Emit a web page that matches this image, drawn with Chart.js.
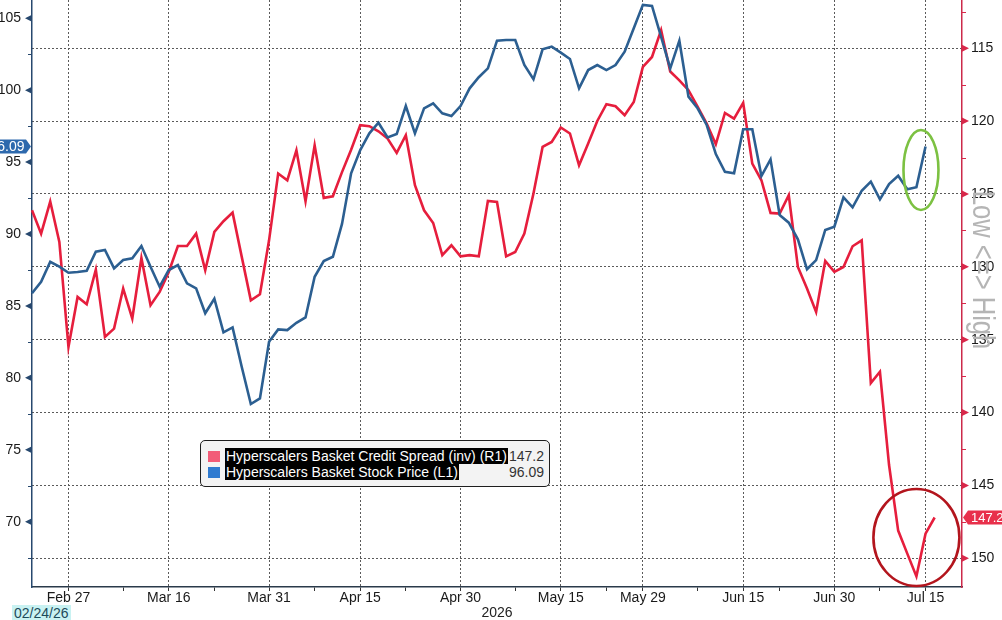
<!DOCTYPE html>
<html>
<head>
<meta charset="utf-8">
<title>Hyperscalers Basket</title>
<script src="https://cdn.jsdelivr.net/npm/chart.js@4.4.1/dist/chart.umd.min.js"></script>
<style>
  html, body { margin: 0; padding: 0; background: #fff; }
  #wrap { position: relative; width: 1002px; height: 620px; overflow: hidden; background: #fff; }
  #chart { display: block; }
  #legend {
    position: absolute; left: 200px; top: 440px; width: 350px; height: 47px;
    box-sizing: border-box; border: 1.5px solid #1e1e1e; border-radius: 5px;
    background: #f3f3f3; font: 14px/16px "Liberation Sans", Arial, sans-serif;
  }
  #legend .row { position: absolute; left: 0; right: 0; height: 16px; }
  #legend .sw { position: absolute; left: 7px; top: 3px; width: 12px; height: 11px; }
  #legend .lab { position: absolute; left: 24px; top: 0; background: #000; color: #fff; padding: 0 1px; white-space: nowrap; }
  #legend .val { position: absolute; right: 5px; top: 0; color: #333; }
  #startDate {
    position: absolute; left: 12px; top: 605px; height: 15px; padding: 0 2px;
    background: #c9f2f2; color: #1d4a5a; font: 14px/16px "Liberation Sans", Arial, sans-serif;
  }
</style>
</head>
<body>
<div id="wrap">
  <canvas id="chart" width="1002" height="620"></canvas>
  <div id="legend"></div>
  <div id="startDate">02/24/26</div>
</div>
<script>
// trading days shown on the axis (last three are empty room at the right edge)
const dates = [
  "Feb 23", "Feb 24", "Feb 25", "Feb 26", "Feb 27",
  "Mar 2", "Mar 3", "Mar 4", "Mar 5", "Mar 6",
  "Mar 9", "Mar 10", "Mar 11", "Mar 12", "Mar 13",
  "Mar 16", "Mar 17", "Mar 18", "Mar 19", "Mar 20",
  "Mar 23", "Mar 24", "Mar 25", "Mar 26", "Mar 27",
  "Mar 30", "Mar 31", "Apr 1", "Apr 2",
  "Apr 6", "Apr 7", "Apr 8", "Apr 9", "Apr 10",
  "Apr 13", "Apr 14", "Apr 15", "Apr 16", "Apr 17",
  "Apr 20", "Apr 21", "Apr 22", "Apr 23", "Apr 24",
  "Apr 27", "Apr 28", "Apr 29", "Apr 30", "May 1",
  "May 4", "May 5", "May 6", "May 7", "May 8",
  "May 11", "May 12", "May 13", "May 14", "May 15",
  "May 18", "May 19", "May 20", "May 21", "May 22",
  "May 26", "May 27", "May 28", "May 29",
  "Jun 1", "Jun 2", "Jun 3", "Jun 4", "Jun 5",
  "Jun 8", "Jun 9", "Jun 10", "Jun 11", "Jun 12",
  "Jun 15", "Jun 16", "Jun 17", "Jun 18",
  "Jun 22", "Jun 23", "Jun 24", "Jun 25", "Jun 26",
  "Jun 29", "Jun 30", "Jul 1", "Jul 2",
  "Jul 6", "Jul 7", "Jul 8", "Jul 9", "Jul 10",
  "Jul 13", "Jul 14", "Jul 15", "Jul 16", "Jul 17",
  "Jul 20", "Jul 21"
];

const majorTicks = ["Feb 27", "Mar 16", "Mar 31", "Apr 15", "Apr 30", "May 15", "May 29", "Jun 15", "Jun 30", "Jul 15"];
const minorTicks = ["Mar 9", "Mar 23", "Apr 8", "Apr 22", "May 8", "May 22", "Jun 8", "Jun 22", "Jul 8"];
const leftTicks = [70, 75, 80, 85, 90, 95, 100, 105];
const rightTicks = [115, 120, 125, 130, 135, 140, 145, 150];

const seriesNames = [
  "Hyperscalers Basket Credit Spread (inv) (R1)",
  "Hyperscalers Basket Stock Price (L1)"
];

// Stock price, left axis
const stockPrice = [
  85.88, 86.68, 88.07, 87.73, 87.31, 87.36, 87.45, 88.77, 88.89, 87.61,
  88.19, 88.31, 89.17, 87.73, 86.34, 87.50, 87.84, 86.57, 86.22, 84.49,
  85.50, 83.16, 83.51, 80.77, 78.18, 78.57, 82.51, 83.37, 83.32, 83.83,
  84.20, 87.03, 88.12, 88.42, 90.70, 94.22, 95.84, 97.00, 97.74, 96.72,
  96.95, 98.90, 97.00, 98.74, 99.09, 98.39, 98.20, 98.90, 100.13, 100.90,
  101.52, 103.44, 103.49, 103.49, 101.75, 100.76, 102.84, 103.03, 102.61, 102.17,
  100.13, 101.40, 101.75, 101.40, 101.75, 102.68, 104.30, 105.93, 105.86, 103.70,
  101.52, 103.44, 99.55, 98.74, 97.58, 95.56, 94.33, 94.22, 97.28, 97.28,
  94.03, 95.19, 91.32, 90.79, 89.63, 87.55, 88.19, 90.28, 90.51, 92.55,
  91.86, 93.01, 93.64, 92.41, 93.48, 94.05, 93.11, 93.25, 96.09
];

// Credit spread, right axis (inverted)
const creditSpread = [
  126.12, 127.72, 125.52, 128.29, 135.50, 132.07, 132.57, 130.19, 134.81, 134.24,
  131.49, 133.55, 129.39, 132.64, 131.72, 130.35, 128.57, 128.57, 127.72, 130.24,
  127.60, 126.87, 126.28, 129.30, 132.30, 131.88, 128.18, 123.60, 124.06, 122.00,
  125.50, 121.66, 125.27, 125.16, 123.50, 121.97, 120.28, 120.35, 120.70, 121.20,
  122.18, 120.97, 124.40, 126.12, 126.99, 129.20, 128.52, 129.28, 129.20, 129.28,
  125.48, 125.55, 129.28, 128.98, 127.72, 124.97, 121.77, 121.43, 120.44, 120.85,
  123.03, 121.54, 119.99, 118.84, 118.98, 119.60, 118.69, 116.28, 115.60, 113.76,
  116.60, 117.20, 117.88, 119.00, 120.17, 121.59, 119.44, 119.83, 118.75, 122.92,
  124.06, 126.30, 126.35, 125.09, 130.01, 131.49, 133.10, 129.60, 130.35, 130.01,
  128.59, 128.18, 137.97, 137.20, 143.60, 148.10, 149.68, 151.24, 148.31, 147.20
];

const redLine = "#e61e3d";
const blueLine = "#2c5f91";
const tickFont = { family: '"Liberation Sans Narrow", "Liberation Sans", Arial, sans-serif', size: 14, lineHeight: 1 };

// hand drawn circles, centred in data units
const circles = [
  { axis: "y", x: 97.5, y: 94.45, rx: 17.5, ry: 40, color: "#7cc142" },
  { axis: "y1", x: 97.0, y: 148.57, rx: 43, ry: 48.5, color: "#b3151d" }
];

const majorIdx = majorTicks.map(d => dates.indexOf(d));
const minorIdx = minorTicks.map(d => dates.indexOf(d));
const lastStock = stockPrice[stockPrice.length - 1].toFixed(2);
const lastSpread = creditSpread[creditSpread.length - 1].toFixed(1);

// legend box
const legend = document.getElementById("legend");
[[seriesNames[0], "#f25c78", lastSpread, 7], [seriesNames[1], "#2f7bd0", lastStock, 23]].forEach(([name, col, val, top]) => {
  legend.insertAdjacentHTML("beforeend",
    `<div class="row" style="top:${top}px"><span class="sw" style="background:${col}"></span>` +
    `<span class="lab">${name}</span><span class="val">${val}</span></div>`);
});

function marker(ctx, x, y, dir, color) {
  ctx.fillStyle = color;
  ctx.beginPath();
  ctx.moveTo(x, y - 3.5);
  ctx.lineTo(x + dir * 7, y);
  ctx.lineTo(x, y + 3.5);
  ctx.closePath();
  ctx.fill();
}

// no label overhang padding, the plot fills the frame
function noPad(s) {
  s.paddingTop = 0;
  s.paddingBottom = 0;
  s.paddingLeft = 0;
  s.paddingRight = 0;
}

const decor = {
  id: "decor",
  afterDraw(chart) {
    const { ctx, chartArea: area, scales } = chart;
    const yl = scales.y, yr = scales.y1, x = scales.x;
    ctx.save();

    // axis markers
    leftTicks.forEach(v => marker(ctx, area.left, yl.getPixelForValue(v), -1, "#27486e"));
    rightTicks.forEach(v => marker(ctx, area.right, yr.getPixelForValue(v), 1, "#d8284a"));
    ctx.lineWidth = 1;
    ctx.strokeStyle = "#27486e";
    leftTicks.map(v => v - 2.5).forEach(v => {
      const py = Math.round(yl.getPixelForValue(v)) + 0.5;
      if (py < area.top || py > area.bottom) return;
      ctx.beginPath(); ctx.moveTo(area.left - 4, py); ctx.lineTo(area.left, py); ctx.stroke();
    });
    ctx.strokeStyle = "#d8284a";
    rightTicks.map(v => v - 2.5).forEach(v => {
      const py = Math.round(yr.getPixelForValue(v)) + 0.5;
      if (py < area.top || py > area.bottom) return;
      ctx.beginPath(); ctx.moveTo(area.right, py); ctx.lineTo(area.right + 4, py); ctx.stroke();
    });

    // circles
    ctx.lineWidth = 2.6;
    circles.forEach(c => {
      ctx.strokeStyle = c.color;
      ctx.beginPath();
      ctx.ellipse(x.getPixelForValue(c.x), scales[c.axis].getPixelForValue(c.y), c.rx, c.ry, 0, 0, Math.PI * 2);
      ctx.stroke();
    });

    // last value tags
    ctx.font = '14px "Liberation Sans", Arial, sans-serif';
    ctx.textBaseline = "middle";
    let py = yl.getPixelForValue(+lastStock);
    ctx.fillStyle = "#2d69ad";
    ctx.beginPath();
    ctx.moveTo(-4, py - 7); ctx.lineTo(26, py - 7); ctx.lineTo(area.left - 1, py);
    ctx.lineTo(26, py + 7); ctx.lineTo(-4, py + 7); ctx.closePath(); ctx.fill();
    ctx.fillStyle = "#fff";
    ctx.textAlign = "right";
    ctx.fillText(lastStock, 24.5, py + 0.5);

    py = yr.getPixelForValue(+lastSpread);
    ctx.fillStyle = "#e8304b";
    ctx.beginPath();
    ctx.moveTo(area.right + 1, py); ctx.lineTo(area.right + 6, py - 7); ctx.lineTo(1006, py - 7);
    ctx.lineTo(1006, py + 7); ctx.lineTo(area.right + 6, py + 7); ctx.closePath(); ctx.fill();
    ctx.fillStyle = "#fff";
    ctx.textAlign = "left";
    ctx.font = '13px "Liberation Sans", Arial, sans-serif';
    ctx.fillText(lastSpread, area.right + 9, py + 0.5);

    // year under the date axis
    ctx.fillStyle = "#222";
    ctx.textAlign = "center";
    ctx.font = '14px "Liberation Sans", Arial, sans-serif';
    ctx.fillText("2026", (area.left + area.right) / 2, 613);

    // right axis title
    ctx.translate(973, 270);
    ctx.rotate(Math.PI / 2);
    ctx.scale(0.8, 1);
    ctx.fillStyle = "#b5b5b5";
    ctx.textBaseline = "alphabetic";
    ctx.font = '32px "Liberation Sans", Arial, sans-serif';
    ctx.fillText("Low <=> High", 0, 0);
    ctx.restore();
  }
};

new Chart(document.getElementById("chart"), {
  type: "line",
  data: {
    labels: dates,
    datasets: [
      {
        label: seriesNames[1],
        data: stockPrice,
        yAxisID: "y",
        borderColor: blueLine,
        borderWidth: 2.6,
        pointRadius: 0,
        tension: 0,
      },
      {
        label: seriesNames[0],
        data: creditSpread,
        yAxisID: "y1",
        borderColor: redLine,
        borderWidth: 2.6,
        pointRadius: 0,
        tension: 0,
      },
    ],
  },
  options: {
    responsive: false,
    animation: false,
    layout: { padding: 0 },
    plugins: {
      legend: { display: false },
      tooltip: { enabled: false },
      title: { display: false },
    },
    scales: {
      x: {
        type: "category",
        afterBuildTicks: s => { s.ticks = majorIdx.concat(minorIdx).sort((a, b) => a - b).map(v => ({ value: v })); },
        afterFit: s => { s.height = 33; noPad(s); },
        grid: {
          color: c => (majorIdx.includes(c.tick.value) ? "#5a5a5a" : "rgba(0,0,0,0)"),
          tickColor: "#333",
          tickLength: 4,
          lineWidth: 1,
        },
        border: { color: "#2a3a4a", width: 1.5, dash: [2, 2] },
        ticks: {
          autoSkip: false,
          maxRotation: 0,
          minRotation: 0,
          padding: 0,
          color: "#1a1a1a",
          font: tickFont,
          callback: v => (majorIdx.includes(v) ? dates[v] : ""),
        },
      },
      y: {
        position: "left",
        min: 65.46,
        max: 106.27,
        afterBuildTicks: s => { s.ticks = leftTicks.map(v => ({ value: v })); },
        afterFit: s => { s.width = 32; noPad(s); },
        grid: { drawOnChartArea: false, drawTicks: false },
        border: { color: "#27486e", width: 1.5 },
        ticks: { padding: 11, color: "#1a1a1a", font: tickFont },
      },
      y1: {
        position: "right",
        reverse: true,
        min: 111.69,
        max: 151.97,
        afterBuildTicks: s => { s.ticks = rightTicks.map(v => ({ value: v })); },
        afterFit: s => { s.width = 40; noPad(s); },
        grid: { color: "#5a5a5a", lineWidth: 1, drawTicks: false },
        border: { color: "#cc2a4a", width: 1.5, dash: [2, 2] },
        ticks: { padding: 9, color: "#1a1a1a", font: tickFont },
      },
    },
  },
  plugins: [decor],
});
</script>
</body>
</html>
